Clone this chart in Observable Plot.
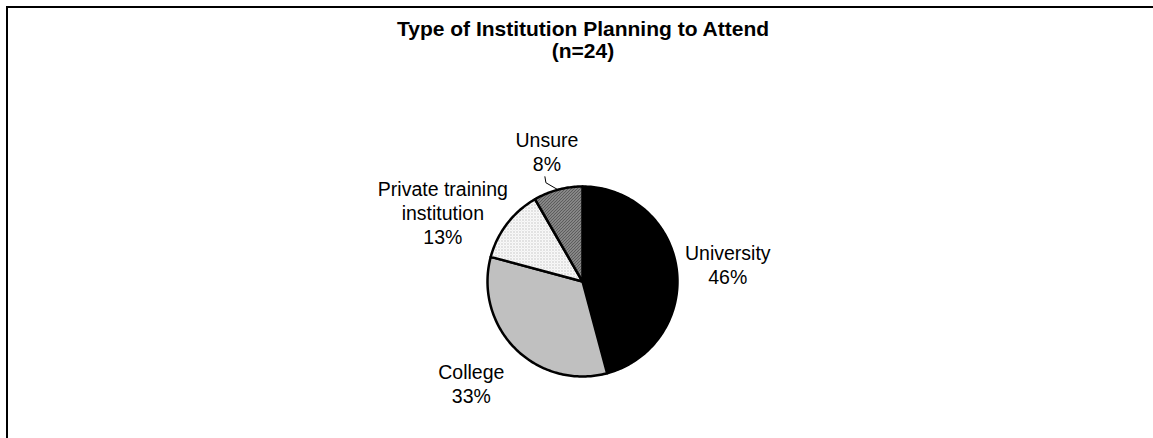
<!DOCTYPE html>
<html>
<head>
<meta charset="utf-8">
<script src="https://cdn.jsdelivr.net/npm/d3@7"></script>
<script src="https://cdn.jsdelivr.net/npm/@observablehq/plot@0.6"></script>
<style>
  html, body { margin: 0; padding: 0; background: #fff; }
  #wrap { position: relative; width: 1153px; height: 438px; overflow: hidden; font-family: Arial, "Liberation Sans", sans-serif; }
  #frame { position: absolute; left: 6px; top: 6px; width: 1200px; height: 500px; border-left: 2px solid #000; border-top: 2px solid #000; }
  #title { position: absolute; left: 383px; width: 400px; top: 18px; text-align: center; font-weight: bold; font-size: 21px; line-height: 22px; color: #000; }
  #chart { position: absolute; left: 0; top: 0; }
</style>
</head>
<body>
<svg width="0" height="0" style="position:absolute">
  <defs>
    <pattern id="dots" patternUnits="userSpaceOnUse" width="3" height="3">
      <rect width="3" height="3" fill="#fff"/>
      <rect x="0" y="0" width="1" height="1" fill="#9a9a9a"/>
      <rect x="1.5" y="1.5" width="1" height="1" fill="#c4c4c4"/>
    </pattern>
    <pattern id="hatch" patternUnits="userSpaceOnUse" width="3" height="3">
      <rect width="3" height="3" fill="#fff"/>
      <path d="M-1,1 L1,-1 M0,3 L3,0 M2,4 L4,2" stroke="#000" stroke-width="1.2"/>
    </pattern>
  </defs>
</svg>
<div id="wrap">
  <div id="frame"></div>
  <div id="title">Type of Institution Planning to Attend<br>(n=24)</div>
  <div id="chart"></div>
</div>
<script>
// ---- data ----
const categories = ["University", "College", "Private training institution", "Unsure"];
const counts = [11, 8, 3, 2];           // n = 24
const percentLabels = ["46%", "33%", "13%", "8%"];
const labelText = ["University", "College", "Private training\ninstitution", "Unsure"];

// ---- styles / layout (not data) ----
const fills = ["#000000", "#c0c0c0", "url(#dots)", "url(#hatch)"];
const labelRadius = [1.54, 1.59, 1.64, 1.42];     // in pie radii
const labelAngleNudge = [0.7, 2.4, -11.2, -0.3]; // degrees

const W = 1153, H = 438;
const cx = 582, cy = 281, R = 95;

const pie = d3.pie().sort(null).value(d => d)(counts);
const deg = Math.PI / 180;

// slice outlines in data units (y up, radius 1)
const slicePts = pie.map((p, i) => {
  const pts = [{x: 0, y: 0}];
  const n = Math.max(2, Math.ceil((p.endAngle - p.startAngle) / deg));
  for (let k = 0; k <= n; k++) {
    const a = p.startAngle + (p.endAngle - p.startAngle) * k / n;
    pts.push({x: Math.sin(a), y: Math.cos(a)});
  }
  pts.push({x: 0, y: 0});
  return pts;
});

const labels = pie.map((p, i) => {
  const a = (p.startAngle + p.endAngle) / 2 + labelAngleNudge[i] * deg;
  return {x: Math.sin(a) * labelRadius[i], y: Math.cos(a) * labelRadius[i], text: labelText[i] + "\n" + percentLabels[i]};
});

// leader line for the small "Unsure" slice
const u = pie[3];
const um = (u.startAngle + u.endAngle) / 2;
const edge = {x: Math.sin(um), y: Math.cos(um)};
const elbow = {x: edge.x - 12 / R, y: edge.y + 7 / R};
const tip = {x: elbow.x - 1 / R, y: elbow.y + 6 / R};
const leader = [edge, elbow, tip];

const marks = slicePts.map((pts, i) =>
  Plot.line(pts, {x: "x", y: "y", fill: fills[i], stroke: "#000", strokeWidth: 2.5, strokeLinejoin: "round", curve: "linear"})
);
marks.push(Plot.line(leader, {x: "x", y: "y", stroke: "#000", strokeWidth: 1}));
marks.push(Plot.text(labels, {x: "x", y: "y", text: "text", fontSize: 19.5, lineHeight: 1.23, lineAnchor: "middle", textAnchor: "middle", fill: "#000"}));

const chart = Plot.plot({
  width: W,
  height: H,
  margin: 0,
  style: {fontFamily: "Arial, 'Liberation Sans', sans-serif", background: "transparent", overflow: "visible"},
  x: {domain: [-1, 1], range: [cx - R, cx + R], axis: null},
  y: {domain: [-1, 1], range: [cy + R, cy - R], axis: null},
  marks
});
document.getElementById("chart").appendChild(chart);
</script>
</body>
</html>
